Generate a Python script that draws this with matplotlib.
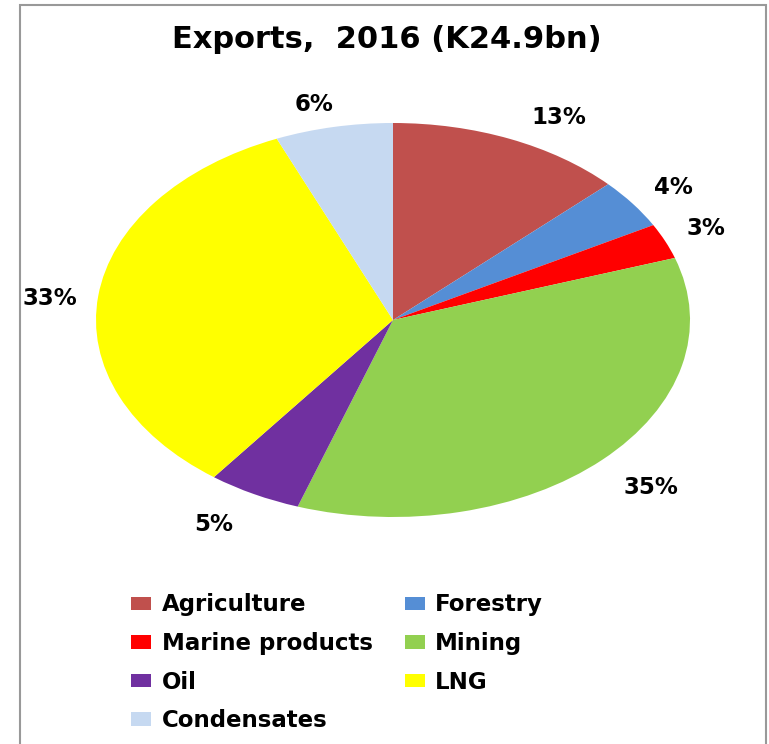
import numpy as np
import matplotlib.pyplot as plt
from matplotlib.patches import Rectangle, Patch

categories = ["Agriculture", "Forestry", "Marine products", "Mining", "Oil", "LNG", "Condensates"]
shares = [12.9, 4.1, 2.9, 35.3, 5.1, 33.3, 6.4]
colors = ["#C0504D", "#558ED5", "#FF0000", "#92D050", "#7030A0", "#FFFF00", "#C6D9F1"]
title = "Exports,  2016 (K24.9bn)"

fig = plt.figure(figsize=(7.69, 7.44), dpi=100)
ax = fig.add_axes([96 / 769, 1 - 517 / 744, 594 / 769, 394 / 744])

wedges, _ = ax.pie(
    shares,
    colors=colors,
    startangle=90,
    counterclock=False,
    wedgeprops={"linewidth": 0},
)
ax.set_aspect("auto")
ax.set_xlim(-1, 1)
ax.set_ylim(-1, 1)

# excel-style "outside end" labels
total = sum(shares)
for w, v in zip(wedges, shares):
    mid = np.deg2rad((w.theta1 + w.theta2) / 2)
    cx, cy = np.cos(mid), np.sin(mid)
    ha = "left" if cx > 0.15 else ("right" if cx < -0.15 else "center")
    va = "bottom" if cy > 0.25 else ("top" if cy < -0.25 else "center")
    dx = 15 * np.sign(cx) if abs(cx) > 0.3 else 0
    ax.annotate(f"{100 * v / total:.0f}%", xy=(cx, cy),
                xytext=(dx, 11.5 * cy - 3.5), textcoords="offset points",
                ha=ha, va=va, fontsize=16.5, fontweight="bold",
                family="DejaVu Sans", annotation_clip=False)

fig.text(387 / 769, 1 - 40 / 744, title, ha="center", va="center",
         fontsize=22, fontweight="bold", family="DejaVu Sans")

# legend fills column-wise, so reorder to get row-wise layout
order = [0, 2, 4, 6, 1, 3, 5]
handles = [Patch(facecolor=colors[i], edgecolor="none") for i in order]
labels = [categories[i] for i in order]
fig.legend(handles, labels, ncol=2, loc="upper left",
           bbox_to_anchor=(120 / 769, 1 - 582 / 744),
           frameon=False, prop={"family": "DejaVu Sans", "weight": "bold", "size": 16.5},
           handlelength=0.87, handleheight=0.52, handletextpad=0.45,
           labelspacing=0.68, columnspacing=1.4, borderpad=0)

fig.patches.append(Rectangle((20 / 769, -0.01), 746 / 769, 1.01 - 5 / 744,
                             transform=fig.transFigure, fill=False,
                             edgecolor="#999999", linewidth=1.5))

fig.savefig("out.png", dpi=100)
